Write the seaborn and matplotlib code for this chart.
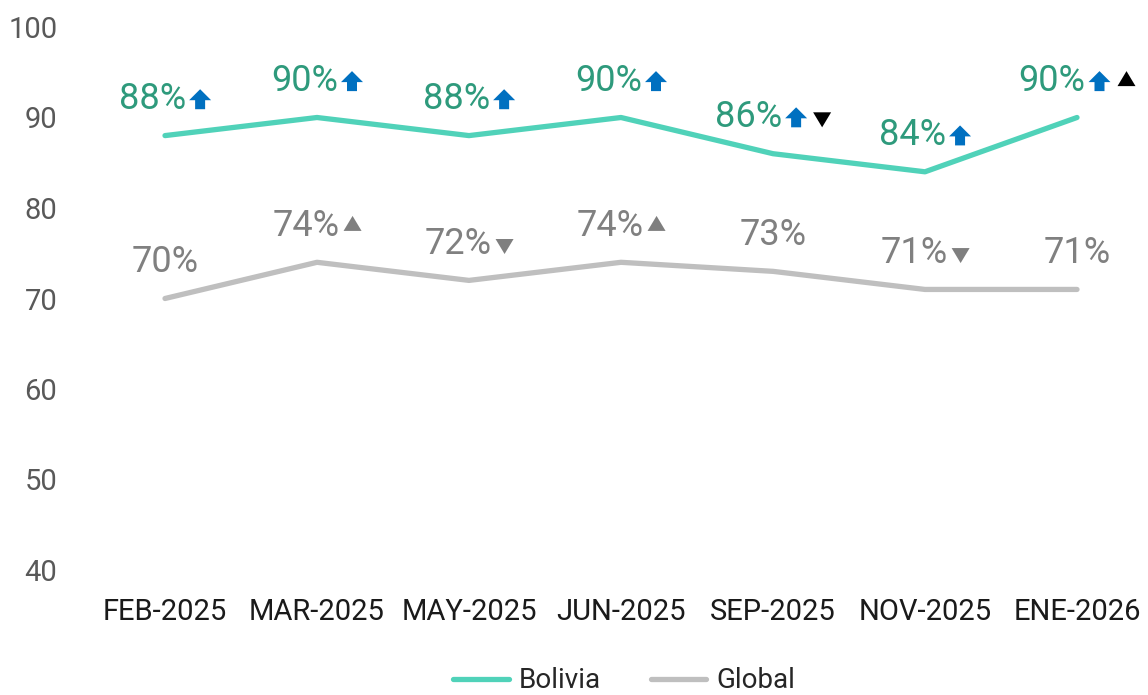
import pandas as pd
import matplotlib.pyplot as plt
import seaborn as sns
from matplotlib.patches import Polygon
from matplotlib.offsetbox import DrawingArea, AnnotationBbox

# Chart data
periods = ['FEB-2025', 'MAR-2025', 'MAY-2025', 'JUN-2025', 'SEP-2025', 'NOV-2025', 'ENE-2026']
bolivia = [88, 90, 88, 90, 86, 84, 90]
global_ = [70, 74, 72, 74, 73, 71, 71]
# markers shown after each label
bolivia_marks = [['arrow'], ['arrow'], ['arrow'], ['arrow'], ['arrow', 'down_k'], ['arrow'], ['arrow', 'up_k']]
global_marks = [[], ['up_g'], ['down_g'], ['up_g'], [], ['down_g'], []]

PX = 0.72  # points per pixel at dpi 100

# marker shapes in pixels: (vertices, width, height, colour, lift above baseline, gap before)
arrow_pts = [(6, 0), (16, 0), (16, 9), (22, 9), (11, 20), (0, 9), (6, 9)]
up_pts = [(0, 0), (18, 0), (9, 15)]
down_pts = [(0, 15), (18, 15), (9, 0)]
shapes = {
    'arrow': (arrow_pts, 22, 20, '#0070C0', 0, 3),
    'up_k': (up_pts, 18, 15, '#000000', 5, 7),
    'down_k': (down_pts, 18, 15, '#000000', 0, 6),
    'up_g': (up_pts, 18, 15, '#7F7F7F', 5, 4),
    'down_g': (down_pts, 18, 15, '#7F7F7F', 0, 4),
}

sns.set_style('white')
plt.rcParams['font.family'] = ['Roboto', 'DejaVu Sans']

df = pd.DataFrame({
    'x': list(range(len(periods))) * 2,
    'value': bolivia + global_,
    'serie': ['Bolivia'] * len(periods) + ['Global'] * len(periods),
})

fig = plt.figure(figsize=(11.48, 6.95), dpi=100)
ax = fig.add_axes([60 / 1148, 125 / 695, 1088 / 1148, 543 / 695])

palette = {'Bolivia': '#50D2B9', 'Global': '#BFBFBF'}
sns.lineplot(data=df, x='x', y='value', hue='serie', palette=palette, linewidth=3.8,
             ax=ax, legend=True, solid_capstyle='round')

ax.set_xlim(-105 / 152, 6 + 71 / 152)
ax.set_ylim(40, 100)
ax.set_yticks(range(40, 101, 10))
ax.set_xticks(range(len(periods)), periods)
ax.tick_params(axis='y', labelsize=21, labelcolor='#595959', length=0, pad=2)
ax.tick_params(axis='x', labelsize=21, labelcolor='#1a1a1a', length=0, pad=20)
ax.set_xlabel('')
ax.set_ylabel('')
for s in ax.spines.values():
    s.set_visible(False)

LIFT = 19  # label baseline above the point, in points


def add_labels(values, marks, color):
    for i, (v, mk) in enumerate(zip(values, marks)):
        extra = sum(shapes[m][1] + shapes[m][5] for m in mk)
        shift = -extra / 2 * PX
        txt = ax.annotate(f'{v}%', xy=(i, v), xytext=(shift, LIFT), textcoords='offset points',
                          ha='center', va='baseline', fontsize=26, color=color)
        xoff = 0
        for m in mk:
            verts, w, h, c, lift, gap = shapes[m]
            xoff += gap
            da = DrawingArea(w * PX, h * PX, 0, 0)
            da.add_artist(Polygon([(a * PX, b * PX) for a, b in verts], closed=True,
                                  facecolor=c, edgecolor='none'))
            ab = AnnotationBbox(da, xy=(1, v), xycoords=(txt, 'data'),
                                xybox=(xoff * PX, LIFT + lift * PX), boxcoords='offset points',
                                box_alignment=(0, 0), frameon=False, pad=0)
            ax.add_artist(ab)
            xoff += w


add_labels(bolivia, bolivia_marks, '#2E9A7C')
add_labels(global_, global_marks, '#808080')

handles, labels = ax.get_legend_handles_labels()
ax.get_legend().remove()
fig.legend(handles, labels, loc='center', bbox_to_anchor=(624 / 1148, 14 / 695), ncol=2,
           frameon=False, fontsize=20, handlelength=2.0, handletextpad=0.35, columnspacing=1.8)

plt.savefig('out.png', dpi=100)
plt.close()
